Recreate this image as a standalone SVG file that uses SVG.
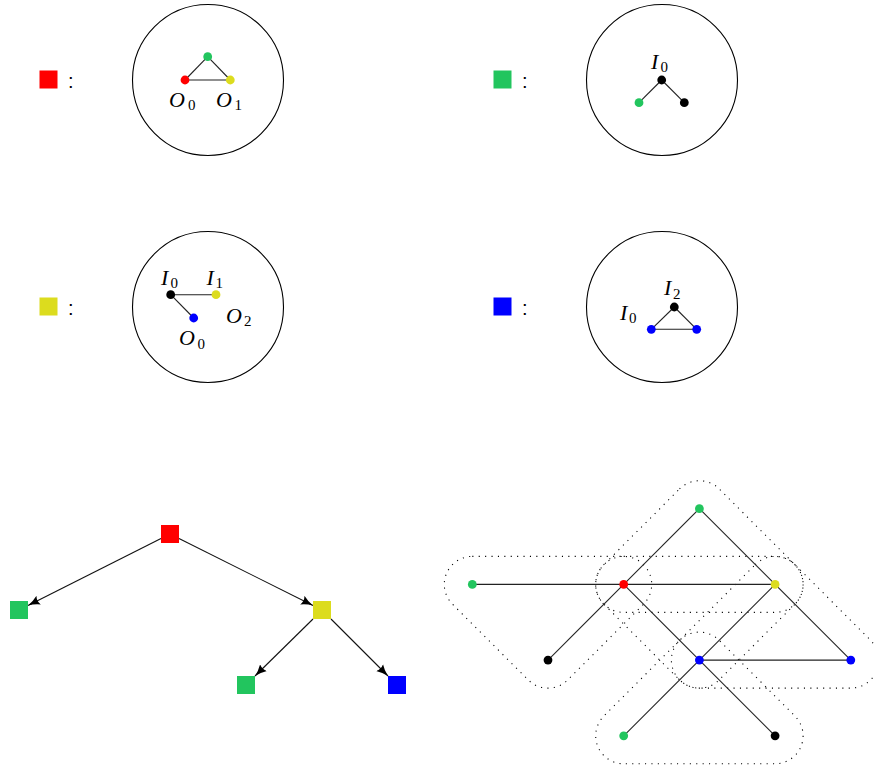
<svg xmlns="http://www.w3.org/2000/svg" width="875" height="767" viewBox="0 0 875 767">
<defs>
<style>
.circ{fill:none;stroke:#000;stroke-width:1.1}
.e{stroke:#222;stroke-width:1.1;fill:none}
.hull{fill:none;stroke:#000;stroke-width:1.1;stroke-dasharray:1.1 5.3}
.m{font-family:"Liberation Serif",serif;font-style:italic;font-size:22px;fill:#000}
.s{font-family:"Liberation Serif",serif;font-style:normal;font-size:15px}
.c{font-family:"Liberation Sans",sans-serif;font-size:20px;fill:#000}
.r{fill:#ff0000}.g{fill:#22c55e}.y{fill:#dcdc1e}.b{fill:#0000ff}.k{fill:#000}
.arr{stroke:#111;stroke-width:1.1;fill:none;marker-end:url(#ah)}
</style>
<marker id="ah" markerUnits="userSpaceOnUse" markerWidth="13" markerHeight="10" refX="11" refY="4.5" orient="auto" viewBox="0 0 12 9">
<path d="M0,0 Q5,3.2 11,4.5 Q5,5.8 0,9 Q2.2,4.5 0,0 Z" fill="#000"/>
</marker>
</defs>

<!-- Legend rule 1: red -->
<g id="legend-red">
<rect x="39.5" y="70.5" width="18" height="18" class="r"/>
<text x="68" y="88" class="c">:</text>
<circle cx="208" cy="80" r="75.5" class="circ"/>
<line x1="207.7" y1="56.7" x2="185" y2="80" class="e"/>
<line x1="207.7" y1="56.7" x2="230.3" y2="80" class="e"/>
<line x1="185" y1="80" x2="230.3" y2="80" class="e"/>
<circle cx="207.7" cy="56.7" r="4.4" class="g"/>
<circle cx="185" cy="80" r="4.4" class="r"/>
<circle cx="230.3" cy="80" r="4.4" class="y"/>
<text x="169" y="106.5" class="m">O<tspan class="s" x="188" y="110">0</tspan></text>
<text x="216" y="106.5" class="m">O<tspan class="s" x="234.5" y="110">1</tspan></text>
</g>

<!-- Legend rule 2: green -->
<g id="legend-green">
<rect x="493.5" y="70.5" width="18" height="18" class="g"/>
<text x="522" y="88" class="c">:</text>
<circle cx="662" cy="80" r="75.5" class="circ"/>
<line x1="661.7" y1="80" x2="639" y2="102.7" class="e"/>
<line x1="661.7" y1="80" x2="684.3" y2="102.7" class="e"/>
<circle cx="661.7" cy="80" r="4.4" class="k"/>
<circle cx="639" cy="102.7" r="4.4" class="g"/>
<circle cx="684.3" cy="102.7" r="4.4" class="k"/>
<text x="651" y="68.5" class="m">I<tspan class="s" x="660.5" y="72">0</tspan></text>
</g>

<!-- Legend rule 3: yellow -->
<g id="legend-yellow">
<rect x="39.5" y="297.5" width="18" height="18" class="y"/>
<text x="68" y="315" class="c">:</text>
<circle cx="208" cy="307" r="75.5" class="circ"/>
<line x1="170.7" y1="294.7" x2="216" y2="294.7" class="e"/>
<line x1="170.7" y1="294.7" x2="193.7" y2="318" class="e"/>
<circle cx="170.7" cy="294.7" r="4.4" class="k"/>
<circle cx="216" cy="294.7" r="4.4" class="y"/>
<circle cx="193.7" cy="318" r="4.4" class="b"/>
<text x="161" y="284.5" class="m">I<tspan class="s" x="170.5" y="288">0</tspan></text>
<text x="206.5" y="284.5" class="m">I<tspan class="s" x="215.5" y="288">1</tspan></text>
<text x="226" y="322.5" class="m">O<tspan class="s" x="244" y="326">2</tspan></text>
<text x="179" y="345" class="m">O<tspan class="s" x="197.5" y="348.5">0</tspan></text>
</g>

<!-- Legend rule 4: blue -->
<g id="legend-blue">
<rect x="493.5" y="297.5" width="18" height="18" class="b"/>
<text x="522" y="315" class="c">:</text>
<circle cx="662" cy="307" r="75.5" class="circ"/>
<line x1="674.3" y1="307" x2="651.3" y2="329.3" class="e"/>
<line x1="674.3" y1="307" x2="696.7" y2="329.3" class="e"/>
<line x1="651.3" y1="329.3" x2="696.7" y2="329.3" class="e"/>
<circle cx="674.3" cy="307" r="4.4" class="k"/>
<circle cx="651.3" cy="329.3" r="4.4" class="b"/>
<circle cx="696.7" cy="329.3" r="4.4" class="b"/>
<text x="664" y="295" class="m">I<tspan class="s" x="673" y="298.5">2</tspan></text>
<text x="620" y="319.5" class="m">I<tspan class="s" x="629" y="323">0</tspan></text>
</g>

<!-- Tree connectors -->
<g id="tree-edges">
<line x1="161" y1="538.5" x2="28" y2="605.5" class="arr"/>
<line x1="179" y1="538.5" x2="313" y2="605.5" class="arr"/>
<line x1="313" y1="619" x2="255" y2="676" class="arr"/>
<line x1="331" y1="619" x2="388" y2="676" class="arr"/>
</g>
<!-- Tree nodes -->
<g id="t-root"><rect x="161" y="525" width="18" height="18" class="r"/></g>
<g id="t-green1"><rect x="10" y="601" width="18" height="18" class="g"/></g>
<g id="t-yellow"><rect x="313" y="601" width="18" height="18" class="y"/></g>
<g id="t-green2"><rect x="237" y="676" width="18" height="18" class="g"/></g>
<g id="t-blue"><rect x="388" y="676" width="18" height="18" class="b"/></g>

<!-- Hulls -->
<g id="hulls">
<path class="hull" d="M679.6,488.9 A28,28 0 0 1 719.2,488.9 L794.9,564.6 A28,28 0 0 1 775.1,612.4 L623.7,612.4 A28,28 0 0 1 603.9,564.6 Z"/>
<path class="hull" d="M472.3,556.4 L623.7,556.4 A28,28 0 0 1 643.5,604.2 L567.8,679.9 A28,28 0 0 1 528.2,679.9 L452.5,604.2 A28,28 0 0 1 472.3,556.4 Z"/>
<path class="hull" d="M623.7,556.4 L775.1,556.4 A28,28 0 0 1 794.9,604.2 L719.2,679.9 A28,28 0 0 1 679.6,679.9 L603.9,604.2 A28,28 0 0 1 623.7,556.4 Z"/>
<path class="hull" d="M679.6,640.3 A28,28 0 0 1 719.2,640.3 L794.9,716 A28,28 0 0 1 775.1,763.8 L623.7,763.8 A28,28 0 0 1 603.9,716 Z"/>
<path class="hull" d="M755.3,564.6 A28,28 0 0 1 794.9,564.6 L870.6,640.3 A28,28 0 0 1 850.8,688.1 L699.4,688.1 A28,28 0 0 1 679.6,640.3 Z"/>
</g>

<!-- Graph connectors -->
<g id="graph-edges" class="e">
<line x1="699.4" y1="508.7" x2="623.7" y2="584.4"/>
<line x1="699.4" y1="508.7" x2="775.1" y2="584.4"/>
<line x1="472.3" y1="584.4" x2="623.7" y2="584.4"/>
<line x1="623.7" y1="584.4" x2="775.1" y2="584.4"/>
<line x1="623.7" y1="584.4" x2="548" y2="660.1"/>
<line x1="623.7" y1="584.4" x2="699.4" y2="660.1"/>
<line x1="775.1" y1="584.4" x2="699.4" y2="660.1"/>
<line x1="775.1" y1="584.4" x2="850.8" y2="660.1"/>
<line x1="699.4" y1="660.1" x2="850.8" y2="660.1"/>
<line x1="699.4" y1="660.1" x2="623.7" y2="735.8"/>
<line x1="699.4" y1="660.1" x2="775.1" y2="735.8"/>
</g>
<!-- Graph nodes -->
<g id="n-gtop"><circle cx="699.4" cy="508.7" r="4.4" class="g"/></g>
<g id="n-gleft"><circle cx="472.3" cy="584.4" r="4.4" class="g"/></g>
<g id="n-red"><circle cx="623.7" cy="584.4" r="4.4" class="r"/></g>
<g id="n-yellow"><circle cx="775.1" cy="584.4" r="4.4" class="y"/></g>
<g id="n-black1"><circle cx="548" cy="660.1" r="4.4" class="k"/></g>
<g id="n-blue"><circle cx="699.4" cy="660.1" r="4.4" class="b"/></g>
<g id="n-blue2"><circle cx="850.8" cy="660.1" r="4.4" class="b"/></g>
<g id="n-gbottom"><circle cx="623.7" cy="735.8" r="4.4" class="g"/></g>
<g id="n-black2"><circle cx="775.1" cy="735.8" r="4.4" class="k"/></g>
</svg>
